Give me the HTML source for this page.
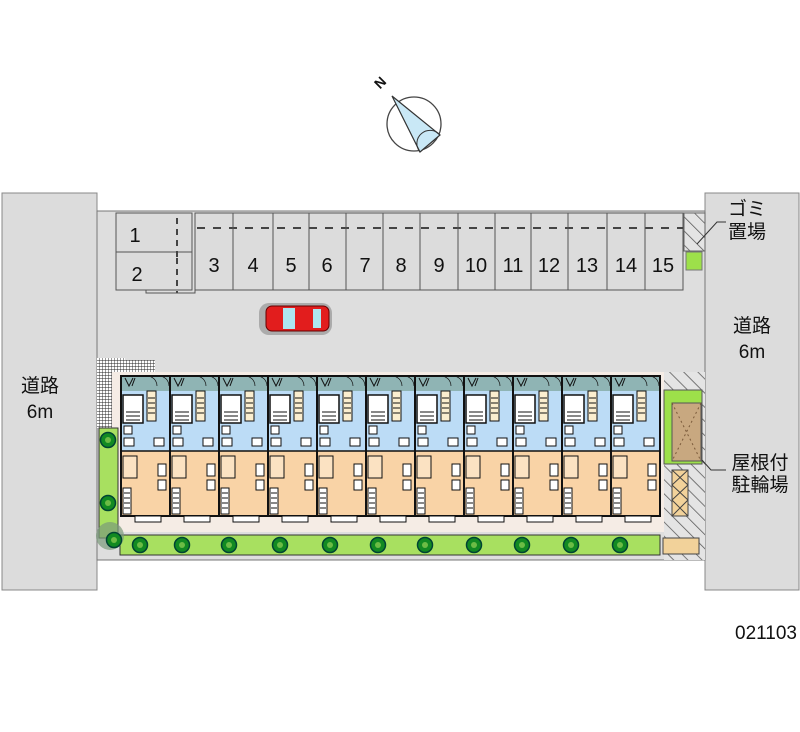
<!DOCTYPE html>
<html><head><meta charset="utf-8"><style>
body{margin:0;background:#fff;width:800px;height:727px;overflow:hidden}
text{font-family:"Liberation Sans","Noto Sans CJK JP",sans-serif;fill:#111}
</style></head><body>
<svg width="800" height="727" viewBox="0 0 800 727" xmlns="http://www.w3.org/2000/svg">
<defs>
<pattern id="hatch" width="10" height="10" patternUnits="userSpaceOnUse" patternTransform="rotate(-45)">
<rect width="10" height="10" fill="#e4e4e4"/><line x1="0" y1="0" x2="0" y2="10" stroke="#555" stroke-width="1.5"/></pattern>
<pattern id="grid" width="3" height="3" patternUnits="userSpaceOnUse"><rect width="3" height="3" fill="#fff"/><path d="M0 0H3M0 0V3" stroke="#222" stroke-width="0.9"/></pattern>
<g id="unit">
<rect x="0" y="0" width="49" height="15" fill="#8fb4b4"/>
<rect x="0" y="15" width="49" height="60" fill="#bcdcf6"/>
<rect x="0" y="75" width="49" height="65" fill="#f9d3a6"/>
<rect x="2" y="19" width="20" height="28" fill="#fff" stroke="#111" stroke-width="1.5"/>
<path d="M5 36h14M5 40h14M5 44h14" stroke="#111"/>
<rect x="26" y="15" width="9" height="30" fill="#fbeecf" stroke="#111"/>
<path d="M27 22h7M27 27h7M27 32h7M27 37h7" stroke="#111"/>
<path d="M4 2l4 8l4-8M14 2l-3 8" stroke="#111" fill="none"/>
<path d="M26 0a10 10 0 0 1 10 10M38 0a10 10 0 0 1 10 10" stroke="#111" fill="none" stroke-width=".7"/>
<rect x="3" y="50" width="8" height="8" fill="#fff" stroke="#111"/>
<rect x="3" y="62" width="10" height="8" fill="#fff" stroke="#111"/>
<rect x="33" y="62" width="10" height="8" fill="#fff" stroke="#111"/>
<rect x="2" y="80" width="14" height="22" fill="#fbe2c2" stroke="#111"/>
<rect x="37" y="88" width="8" height="12" fill="#fff" stroke="#111"/>
<rect x="37" y="104" width="8" height="10" fill="#fff" stroke="#111"/>
<rect x="2" y="112" width="8" height="26" fill="#fff" stroke="#111"/>
<path d="M3 117h6M3 122h6M3 127h6M3 132h6" stroke="#111"/>
<rect x="0" y="0" width="49" height="140" fill="none" stroke="#111" stroke-width="2"/>
<line x1="0" y1="75" x2="49" y2="75" stroke="#111" stroke-width="1.5"/>
<rect x="14" y="140" width="26" height="6" fill="#fff" stroke="#111"/>
</g>
<g id="tree"><circle r="7.5" fill="#128a22" stroke="#043" stroke-width="1.5"/><circle r="3" fill="#6cbc45"/></g>
</defs>

<rect x="2" y="193" width="95" height="397" fill="#dcdcdc" stroke="#888"/>
<rect x="705" y="193" width="94" height="397" fill="#dcdcdc" stroke="#888"/>
<rect x="97" y="211" width="608" height="349" fill="#dedede" stroke="#777"/>
<rect x="116" y="213" width="76" height="77" fill="#dcdcdc" stroke="#555"/>
<line x1="116" y1="252" x2="192" y2="252" stroke="#555"/>
<path d="M177 218v42M177 258v35" stroke="#444" stroke-width="2" stroke-dasharray="6 5"/>
<path d="M146 290v3h49v-3" stroke="#555" fill="none"/>
<rect x="195" y="213" width="488" height="77" stroke="#555" fill="#dcdcdc"/>
<path d="M197 228H683" stroke="#444" stroke-width="2" stroke-dasharray="8 8"/>
<g stroke="#555">
<line x1="233" y1="213" x2="233" y2="290"/><line x1="273" y1="213" x2="273" y2="290"/><line x1="309" y1="213" x2="309" y2="290"/><line x1="346" y1="213" x2="346" y2="290"/><line x1="383" y1="213" x2="383" y2="290"/><line x1="420" y1="213" x2="420" y2="290"/><line x1="458" y1="213" x2="458" y2="290"/><line x1="495" y1="213" x2="495" y2="290"/><line x1="531" y1="213" x2="531" y2="290"/><line x1="568" y1="213" x2="568" y2="290"/><line x1="607" y1="213" x2="607" y2="290"/><line x1="645" y1="213" x2="645" y2="290"/>
</g>
<g font-size="20" text-anchor="middle">
<text x="135" y="242">1</text><text x="137" y="281">2</text>
<text x="214" y="272">3</text><text x="253" y="272">4</text><text x="291" y="272">5</text><text x="327" y="272">6</text><text x="365" y="272">7</text><text x="401" y="272">8</text><text x="439" y="272">9</text><text x="476" y="272">10</text><text x="513" y="272">11</text><text x="549" y="272">12</text><text x="587" y="272">13</text><text x="626" y="272">14</text><text x="663" y="272">15</text>
</g>
<rect x="684" y="213" width="21" height="38" fill="url(#hatch)" stroke="#666"/>
<rect x="686" y="252" width="16" height="18" fill="#9de04a" stroke="#777"/>
<rect x="259" y="303" width="73" height="32" rx="10" fill="#888" opacity=".6"/>
<rect x="266" y="306" width="63" height="25" rx="6" fill="#e21d1d" stroke="#600"/>
<rect x="283" y="308" width="12" height="21" fill="#aee6f0"/>
<rect x="313" y="309" width="8" height="19" fill="#aee6f0"/>
<rect x="97" y="358" width="28" height="70" fill="url(#grid)"/>
<rect x="125" y="360" width="30" height="12" fill="url(#grid)"/>
<rect x="112" y="372" width="552" height="160" fill="#f5ece5"/>
<use href="#unit" x="121" y="376"/><use href="#unit" x="170" y="376"/><use href="#unit" x="219" y="376"/><use href="#unit" x="268" y="376"/><use href="#unit" x="317" y="376"/><use href="#unit" x="366" y="376"/><use href="#unit" x="415" y="376"/><use href="#unit" x="464" y="376"/><use href="#unit" x="513" y="376"/><use href="#unit" x="562" y="376"/><use href="#unit" x="611" y="376"/>
<rect x="99" y="428" width="19" height="110" fill="#a8e060" stroke="#333"/>
<rect x="120" y="535" width="540" height="20" fill="#a8e060" stroke="#333"/>
<circle cx="110" cy="536" r="14" fill="#7a9a7a" opacity=".7"/>
<use href="#tree" x="108" y="440"/><use href="#tree" x="108" y="503"/><use href="#tree" x="114" y="540"/>
<use href="#tree" x="140" y="545"/><use href="#tree" x="182" y="545"/><use href="#tree" x="229" y="545"/><use href="#tree" x="280" y="545"/><use href="#tree" x="330" y="545"/><use href="#tree" x="378" y="545"/><use href="#tree" x="425" y="545"/><use href="#tree" x="474" y="545"/><use href="#tree" x="522" y="545"/><use href="#tree" x="571" y="545"/><use href="#tree" x="620" y="545"/>
<rect x="664" y="372" width="41" height="188" fill="url(#hatch)"/>
<rect x="664" y="390" width="38" height="74" fill="#9de04a" stroke="#555"/>
<rect x="672" y="403" width="29" height="58" fill="#c8a880" stroke="#555"/>
<path d="M672 403l29 58M701 403l-29 58" stroke="#7a5a3a" stroke-dasharray="2 3"/>
<rect x="672" y="470" width="16" height="46" fill="#f2d29a" stroke="#444"/>
<path d="M672 470l16 15M688 470l-16 15M672 485l16 15M688 485l-16 15M672 500l16 16M688 500l-16 16" stroke="#444"/>
<rect x="663" y="538" width="36" height="16" fill="#f2d29a" stroke="#444"/>
<path d="M697 244L717 222H726" stroke="#333" fill="none"/>
<path d="M702 460L711 470H726" stroke="#333" fill="none"/>
<g font-size="19" text-anchor="middle">
<text x="40" y="392">道路</text><text x="40" y="418">6m</text>
<text x="752" y="332">道路</text><text x="752" y="358">6m</text>
<text x="747" y="215">ゴミ</text><text x="747" y="238">置場</text>
<text x="760" y="469">屋根付</text><text x="760" y="491">駐輪場</text>
<text x="766" y="639">021103</text>
</g>
<circle cx="414" cy="124" r="27" fill="#fff" stroke="#444" stroke-width="1.3"/>
<path d="M392 96L440 135L420 152Z" fill="#c9e8f6" stroke="#333" stroke-width="1.2"/>
<path d="M420 152a12 12 0 0 1 20-17" stroke="#333" fill="none"/>
<text x="376" y="88" font-size="14" font-weight="bold" transform="rotate(-45 380 84)">N</text>
</svg>
</body></html>
